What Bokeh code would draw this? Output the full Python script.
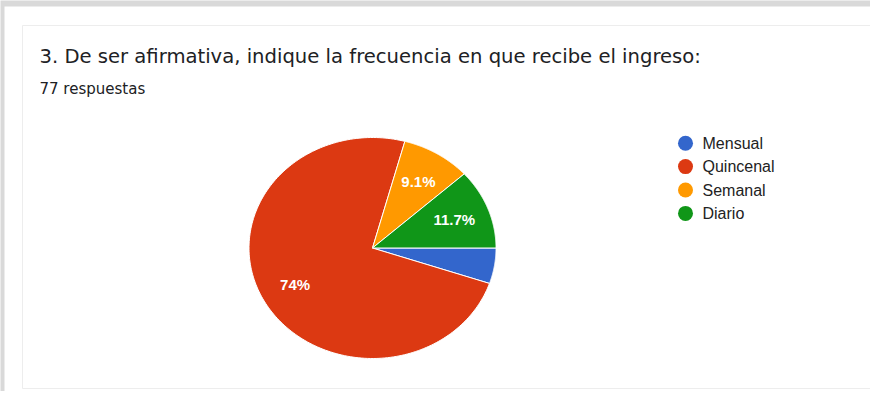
import numpy as np
from bokeh.plotting import figure
from bokeh.models import Range1d
from bokeh.core.properties import value
from bokeh.embed import file_html
from bokeh.resources import INLINE

# ---- data ----
categories = ["Mensual", "Quincenal", "Semanal", "Diario"]
counts = [4, 57, 7, 9]
colors = ["#3366cc", "#dc3912", "#ff9900", "#109618"]
pct_labels = ["", "74%", "9.1%", "11.7%"]
title_text = "3. De ser afirmativa, indique la frecuencia en que recibe el ingreso:"
subtitle_text = "77 respuestas"

W, H = 870, 391
p = figure(width=W, height=H, output_backend="svg", toolbar_location=None,
           x_range=Range1d(0, W), y_range=Range1d(0, H),
           min_border=0, min_border_left=0, min_border_right=0,
           min_border_top=0, min_border_bottom=0)
p.axis.visible = False
p.grid.visible = False
p.outline_line_color = None
p.background_fill_color = "#d9d9d9"
p.border_fill_color = "#d9d9d9"

# card background (page coords -> data: x-8, 399-y)
p.quad(left=[4], right=[W], bottom=[0], top=[385], fill_color="white", line_color=None)
p.quad(left=[22], right=[874], bottom=[3], top=[366], fill_color=None,
       line_color="#ededed", line_width=1)

# title / subtitle
p.text(x=[39], y=[334.7], text=[title_text], text_font=value("DejaVu Sans"),
       text_font_size="19.6px", text_color="#202124", text_baseline="alphabetic")
p.text(x=[39], y=[303], text=[subtitle_text], text_font=value("DejaVu Sans"),
       text_font_size="15px", text_color="#202124", text_baseline="alphabetic")

# pie (elliptical, as in the reference screenshot)
cx, cy, rx, ry = 372.0, 143.5, 123.5, 110.5
total = float(sum(counts))
fr = np.array(counts) / total
ends = -np.cumsum(fr) * 2 * np.pi
starts = np.concatenate([[0.0], ends[:-1]])
xs, ys = [], []
for a0, a1 in zip(starts, ends):
    t = np.linspace(a0, a1, 200)
    xs.append(np.concatenate([[cx], cx + rx * np.cos(t)]).tolist())
    ys.append(np.concatenate([[cy], cy + ry * np.sin(t)]).tolist())
p.patches(xs=xs, ys=ys, fill_color=colors, line_color="white", line_width=1)

mids = (starts + ends) / 2
lf = 0.71
p.text(x=(cx + lf * rx * np.cos(mids)).tolist(), y=(cy + lf * ry * np.sin(mids)).tolist(),
       text=pct_labels, text_font=value("Liberation Sans"), text_font_size="15px",
       text_font_style="bold", text_color="white", text_align="center",
       text_baseline="middle")

# legend
lx, ly0, step = 685, 248.3, 23.4
ly = [ly0 - i * step for i in range(len(categories))]
p.scatter(x=[lx] * len(categories), y=ly, size=15, marker="circle",
          fill_color=colors, line_color=None)
p.text(x=[lx + 17] * len(categories), y=ly, text=categories,
       text_font=value("Liberation Sans"), text_font_size="16px",
       text_color="#222222", text_baseline="middle")

open("out.html", "w").write(file_html(p, INLINE))
